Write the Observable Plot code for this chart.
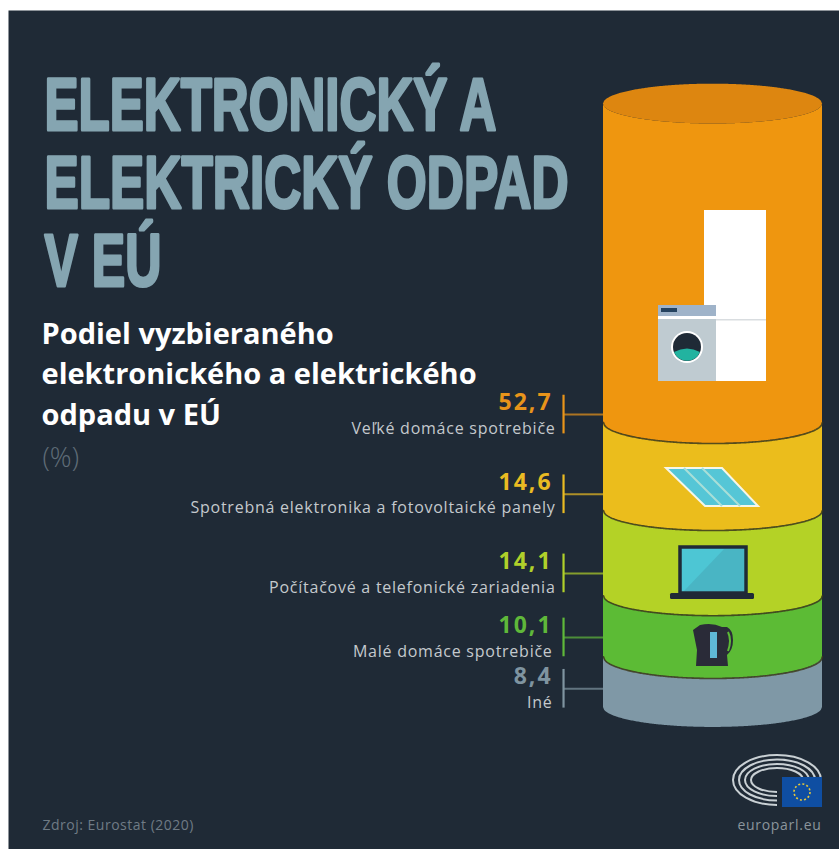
<!DOCTYPE html>
<html lang="sk">
<head>
<meta charset="utf-8">
<script src="https://cdn.jsdelivr.net/npm/d3@7"></script>
<script src="https://cdn.jsdelivr.net/npm/@observablehq/plot@0.6"></script>
<style>
html,body{margin:0;padding:0;background:#fff;}
svg{display:block;}
</style>
</head>
<body>
<div id="chart"></div>
<script>
const categories = ["Iné","Malé domáce spotrebiče","Počítačové a telefonické zariadenia","Spotrebná elektronika a fotovoltaické panely","Veľké domáce spotrebiče"];
const values = [8.4,10.1,14.1,14.6,52.7];
const valueLabels = ["8,4","10,1","14,1","14,6","52,7"];
const segmentColors = ["#7f98a6","#5cbb35","#b4d226","#ebbd1c","#ef960f"];
const valueColors = ["#7f94a0","#5fb83a","#b0d02a","#eabb22","#e8941a"];
const titleLines = ["ELEKTRONICKÝ A","ELEKTRICKÝ ODPAD","V EÚ"];
const titleWidths = [452,524,117];
const subtitleLines = ["Podiel vyzbieraného","elektronického a elektrického","odpadu v EÚ"];
const unitLabel = "(%)";
const sourceLabel = "Zdroj: Eurostat (2020)";
const siteLabel = "europarl.eu";

// Layout (in percent units of the y scale)
const curve = [3.3,3.6,3.3,3.3,3.5,3.3];  // ellipse half-height at each boundary
const tickAt = [3.1,11.6,22.2,35.3,48.5]; // leader position per segment
const bg = "#1f2a36";

let c = 0;
const boundaries = [0, ...values.map(v => (c += v))];
const steps = d3.range(-1, 1.0001, 0.01);
const low = (i, t) => boundaries[i] - curve[i] * Math.sqrt(Math.max(0, 1 - t * t));
const high = (i, t) => boundaries[i] + curve[i] * Math.sqrt(Math.max(0, 1 - t * t));

const segs = values.map((v, i) => steps.map(t => ({t, y1: low(i, t), y2: low(i + 1, t), color: segmentColors[i]})));
const rows = values.map((v, i) => ({i, cat: categories[i], lab: valueLabels[i], col: valueColors[i], y: tickAt[i]}));

const icons = () => {
  const ns = "http://www.w3.org/2000/svg";
  const g = document.createElementNS(ns, "g");
  const ring = (rx, ry) => `<path d="M777 ${780 + ry} A${rx} ${ry} 0 1 1 ${777 + rx} 780"/>`;
  g.innerHTML = `
   <rect x="704" y="210" width="62" height="171" fill="#fff"/>
   <rect x="704" y="319" width="62" height="1.5" fill="#d9dde0"/>
   <rect x="658" y="305" width="58" height="76" fill="#bfcbd1"/>
   <rect x="658" y="305" width="58" height="11" fill="#9fb3c9"/>
   <rect x="661" y="308" width="16" height="4" fill="#24425f"/>
   <rect x="658" y="316" width="58" height="3" fill="#fff"/>
   <circle cx="687" cy="347" r="16" fill="#fff"/>
   <circle cx="687" cy="347" r="14" fill="#1f2a36"/>
   <path d="M674 352 A14 14 0 0 0 700 352 Q687 345 674 352Z" fill="#22b3a0"/>
   <path d="M666 468 L722 468 L758 506 L705 506 Z" fill="#55c6d6" stroke="#f6f6e8" stroke-width="2"/>
   <path d="M684 468 L722 506 M702 468 L740 506" stroke="#a8dfd8" stroke-width="2" fill="none"/>
   <rect x="680" y="547" width="66" height="46" fill="#4dc6d4" stroke="#1f2a36" stroke-width="3.5"/>
   <path d="M684 591 L724 549 L744 549 L744 591Z" fill="#47aebd" opacity=".7"/>
   <rect x="670" y="593" width="84" height="6" rx="1.5" fill="#1f2a36"/>
   <path d="M693 630 L700 625 Q712 622 722 627 L727 627 Q733 630 733 640 Q733 650 727 655 L728 666 L696 666 L697 650 Q695 640 693 630Z" fill="#2a2b38"/>
   <rect x="710" y="632" width="7" height="26" fill="#5fb7d6"/>
   <path d="M728 632 Q732 640 728 651" stroke="#5cbb35" stroke-width="2" fill="none"/>
   <g fill="none" stroke="#c9d0d4" stroke-width="2">
     ${ring(44, 25)}${ring(38, 20.5)}${ring(32, 16)}${ring(26, 12)}
   </g>
   <rect x="782" y="777" width="40" height="30" fill="#0f4ea2"/>
   <circle cx="802" cy="792" r="8" fill="none" stroke="#e6c93a" stroke-width="1.6" stroke-dasharray="2 2.2"/>`;
  return g;
};

// Static text placed by frame offset, one mark per line
const line = (txt, dx, dy, style) => Plot.text([txt], {
  text: d => d, frameAnchor: "top-left", textAnchor: "start", lineAnchor: "middle",
  dx, dy, ...style
});

const titleStyle = {fill: "#85a5b1", stroke: "#85a5b1", strokeWidth: 3, fontFamily: "'Liberation Sans'", fontWeight: 700, fontSize: 74};
const subStyle = {fill: "#fff", fontFamily: "'Open Sans'", fontWeight: 700, fontSize: 29};

const plot = Plot.plot({
  width: 839, height: 849,
  marginLeft: 8, marginTop: 10, marginRight: 0, marginBottom: 0,
  style: {background: "transparent", overflow: "visible"},
  x: {domain: [-1, 1], range: [603, 822], axis: null},
  y: {domain: [0, 100], range: [707, 103], axis: null},
  marks: [
    Plot.frame({fill: bg, stroke: null}),
    // leader lines
    Plot.ruleY(rows, {y: "y", x1: -1.365, x2: -1, stroke: "col", strokeWidth: 2, strokeOpacity: 0.7}),
    Plot.ruleX(rows, {x: () => -1.365, y1: d => d.y + 3.2, y2: d => d.y - 3.2, stroke: "col", strokeWidth: 2.2}),
    // cylinder body
    ...segs.map(s => Plot.areaY(s, {x: "t", y1: "y1", y2: "y2", fill: "color"})),
    // top cap
    Plot.areaY(steps.map(t => ({t, y1: low(5, t), y2: high(5, t)})), {x: "t", y1: "y1", y2: "y2", fill: "#dd8610"}),
    // separators
    ...[1, 2, 3, 4].map(i => Plot.line(steps.map(t => ({t, y: low(i, t)})), {x: "t", y: "y", stroke: "#3c3a1c", strokeWidth: 1.6, strokeOpacity: 0.85})),
    // values and categories
    Plot.text(rows, {x: () => -1.465, y: "y", dy: -12, text: "lab", fill: "col", textAnchor: "end", fontFamily: "'Open Sans'", fontWeight: 700, fontSize: 23}),
    Plot.text(rows, {x: d => d.i < 2 ? -1.465 : -1.438, y: "y", dy: 14, text: "cat", fill: "#c4c9cd", textAnchor: "end", fontFamily: "'Open Sans'", fontSize: 16}),
    // title block
    ...titleLines.map((t, i) => line(t, 36, 95.5 + i * 78, titleStyle)),
    ...subtitleLines.map((t, i) => line(t, 33, 324 + i * 40.5, subStyle)),
    line(unitLabel, 34, 448, {fill: "#5f6d78", fontFamily: "'Open Sans'", fontWeight: 300, fontSize: 27}),
    line(sourceLabel, 34, 815, {fill: "#6f7b85", fontFamily: "'Open Sans'", fontSize: 14}),
    line(siteLabel, 813, 815, {fill: "#8b959c", fontFamily: "'Open Sans'", fontSize: 14, textAnchor: "end"}),
    icons
  ]
});

// Text fitting that Plot's text options do not cover
d3.select(plot).selectAll("text").each(function () {
  const s = this.textContent;
  const i = titleLines.indexOf(s);
  if (i >= 0) {
    this.setAttribute("textLength", titleWidths[i]);
    this.setAttribute("lengthAdjust", "spacingAndGlyphs");
  }
  if (categories.includes(s)) this.style.letterSpacing = "0.75px";
  if (valueLabels.includes(s)) this.style.letterSpacing = "2px";
  if (s === sourceLabel) this.style.letterSpacing = "0.5px";
  if (s === siteLabel) this.style.letterSpacing = "0.7px";
});
document.getElementById("chart").append(plot);
</script>
</body>
</html>
